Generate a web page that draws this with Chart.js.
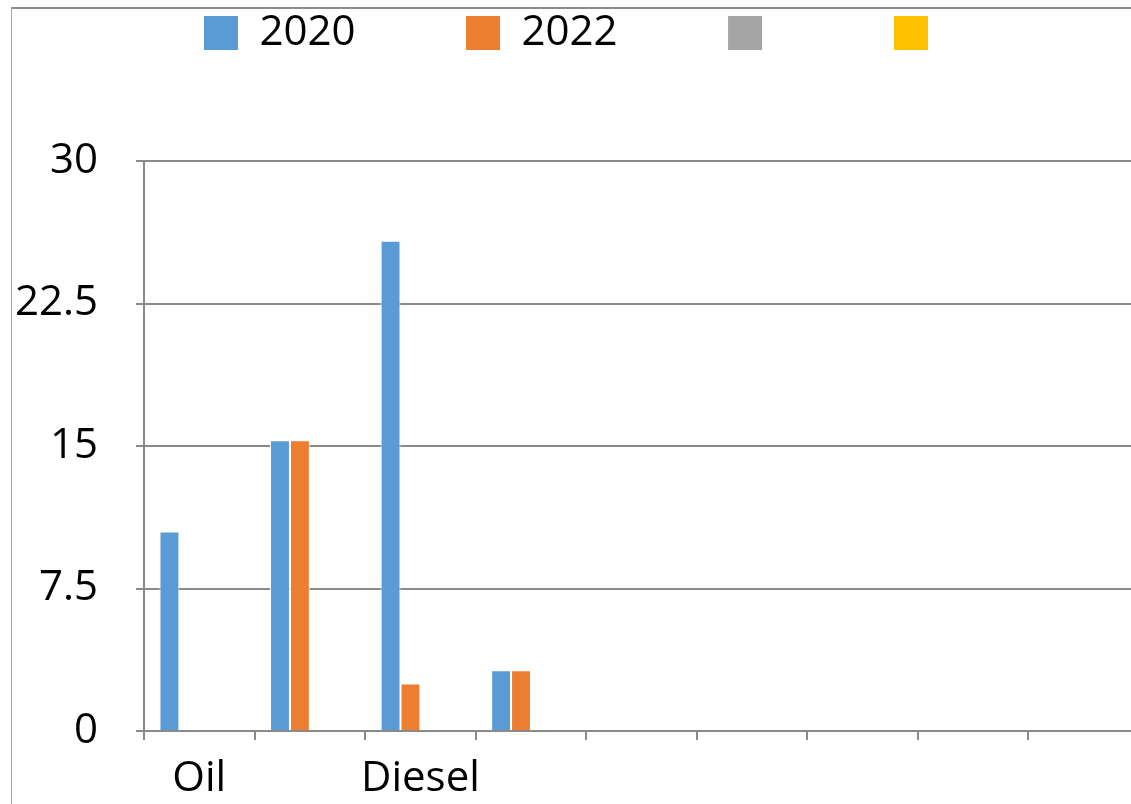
<!DOCTYPE html>
<html>
<head>
<meta charset="utf-8">
<script src="https://cdn.jsdelivr.net/npm/chart.js@4.4.1/dist/chart.umd.min.js"></script>
<style>
  html, body { margin: 0; padding: 0; background: #fff; overflow: hidden; }
  #wrap { position: relative; width: 1140px; height: 804px; }
  #frame {
    position: absolute; left: 11px; top: 7px; right: 0; bottom: 0;
    border-top: 2px solid #8c8c8c; border-left: 1px solid #a6a6a6;
    pointer-events: none;
  }
</style>
</head>
<body>
<div id="wrap">
  <canvas id="bar-chart" width="1140" height="804"></canvas>
  <div id="frame"></div>
</div>
<script>
// categories (Excel only printed every other label)
const categories = ['Oil', '', 'Diesel', '', '', '', '', '', '']
const seriesNames = ['2020', '2022', '', '']
const seriesColors = ['#5b9bd5', '#ed7d31', '#a5a5a5', '#ffc000']

const values2020 = [10.5, 15.3, 25.8, 3.2, null, null, null, null, null]
const values2022 = [null, 15.3, 2.5, 3.2, null, null, null, null, null]
const values3 = [null, null, null, null, null, null, null, null, null]
const values4 = [null, null, null, null, null, null, null, null, null]

const yTicks = [0, 7.5, 15, 22.5, 30]

const allValues = [values2020, values2022, values3, values4]
const barDatasets = []
for (let i = 0; i < allValues.length; i++) {
  barDatasets.push({
    label: seriesNames[i],
    data: allValues[i],
    backgroundColor: seriesColors[i],
    borderColor: '#ffffff',
    borderWidth: 1,
    categoryPercentage: 0.72,
    barPercentage: 1.0,
  })
}

Chart.defaults.font.family = '"Open Sans", "Liberation Sans", sans-serif'
Chart.defaults.color = '#000000'

const legendPadding = 110

const barChartConfig = {
  type: 'bar',
  data: {
    labels: categories,
    datasets: barDatasets,
  },
  options: {
    responsive: false,
    animation: false,
    layout: {
      padding: { top: 12 - legendPadding, left: 14, right: 1, bottom: 0 },
    },
    plugins: {
      legend: {
        display: true,
        position: 'top',
        labels: {
          boxWidth: 35,
          boxHeight: 35,
          padding: legendPadding,
          font: { size: 42 },
          color: '#000000',
        },
      },
      // empty title used only as a spacer under the legend
      title: {
        display: true,
        text: '',
        weight: 100,
        font: { size: 10 },
        padding: { top: 0, bottom: 85 },
      },
      tooltip: { enabled: false },
    },
    scales: {
      x: {
        afterFit: function (axis) {
          axis.height = 73
        },
        grid: {
          display: true,
          drawOnChartArea: false,
          drawTicks: true,
          tickLength: 9,
          color: '#8a8a8a',
          lineWidth: 2,
        },
        border: { display: true, color: '#8a8a8a', width: 2 },
        ticks: {
          autoSkip: false,
          maxRotation: 0,
          minRotation: 0,
          padding: 14,
          font: { size: 42 },
        },
      },
      y: {
        min: 0,
        max: 30,
        afterBuildTicks: function (axis) {
          axis.ticks = yTicks.map(function (v) { return { value: v } })
        },
        afterFit: function (axis) {
          axis.width = 130
        },
        grid: {
          color: '#8a8a8a',
          lineWidth: 2,
          tickLength: 8,
        },
        border: { display: true, color: '#8a8a8a', width: 2 },
        ticks: {
          padding: 38,
          font: { size: 42 },
        },
      },
    },
  },
}

const barChartCanvas = document.getElementById('bar-chart').getContext('2d')
const barChart = new Chart(barChartCanvas, barChartConfig)
</script>
</body>
</html>
